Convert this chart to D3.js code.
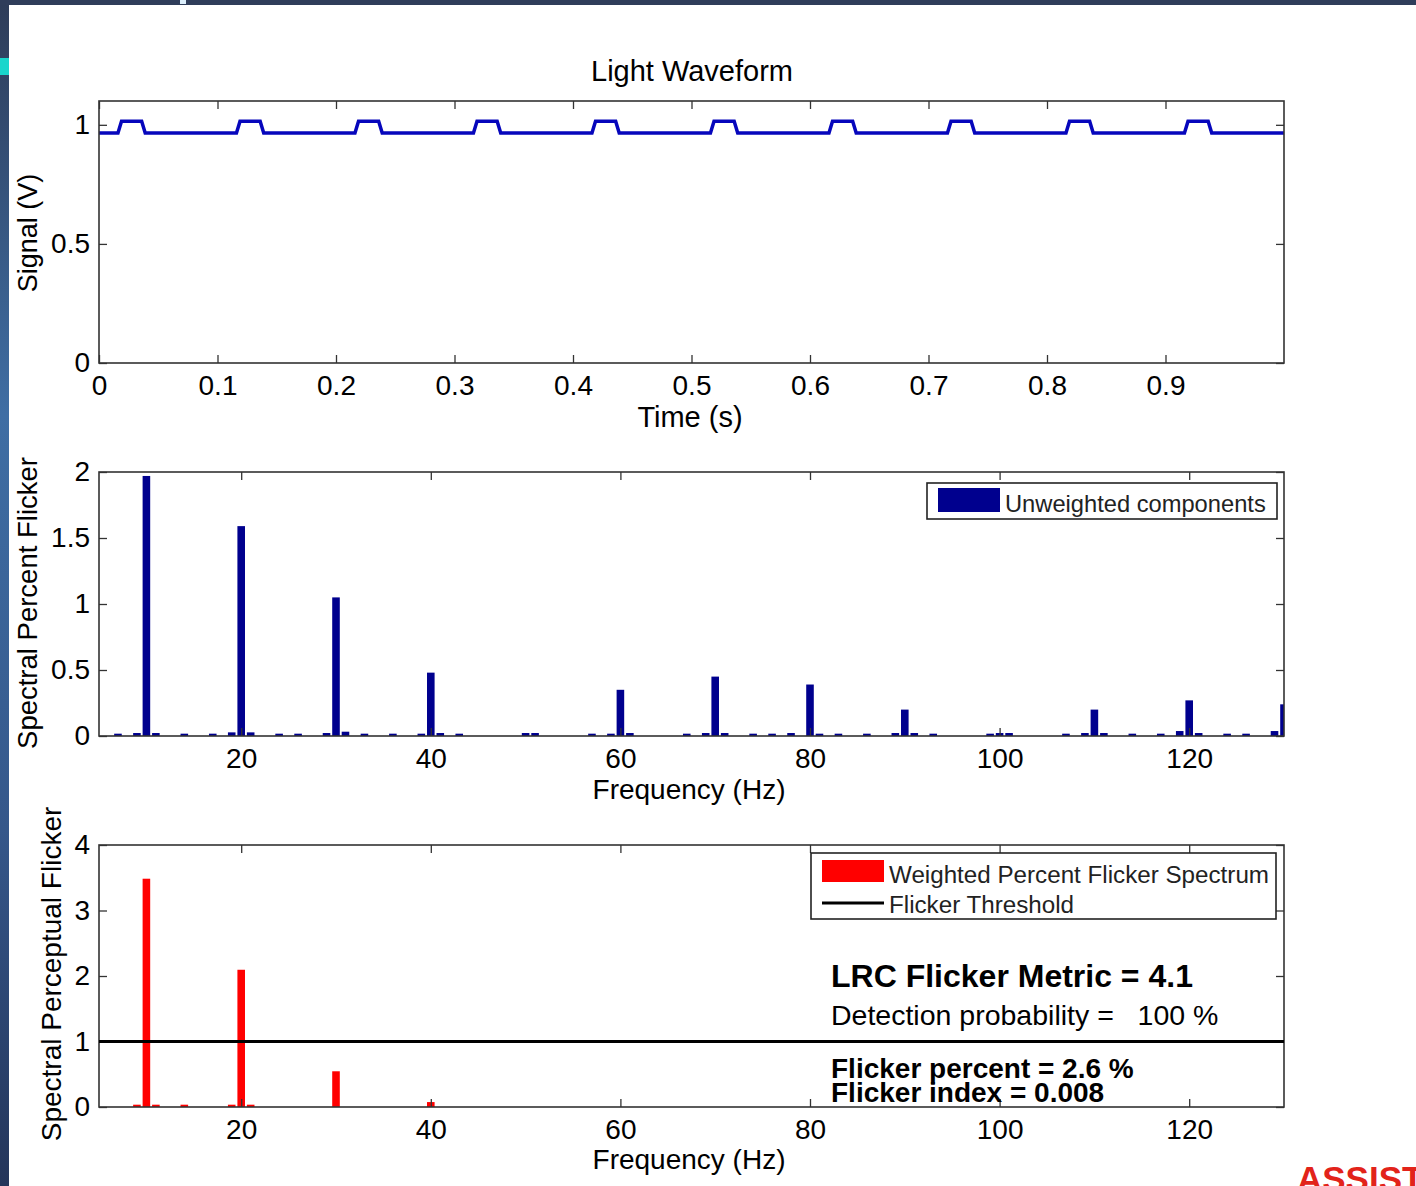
<!DOCTYPE html>
<html>
<head>
<meta charset="utf-8">
<script src="https://cdn.jsdelivr.net/npm/d3@7"></script>
<style>
  body { margin: 0; background: #fff; }
  svg { display: block; }
  text { font-family: "Liberation Sans", Arial, sans-serif; fill: #000; }
</style>
</head>
<body>
<div id="vis"></div>
<script>
// --- data ---
// light waveform: pulse rise / fall times (s) and the two signal levels (V)
const pulseRise = [0.016, 0.116, 0.216, 0.316, 0.416, 0.516, 0.616, 0.716, 0.816, 0.916];
const pulseFall = [0.036, 0.136, 0.236, 0.336, 0.436, 0.536, 0.636, 0.736, 0.836, 0.936];
const levelLow = 0.966;
const levelHigh = 1.015;
const timeTicks = [0, 0.1, 0.2, 0.3, 0.4, 0.5, 0.6, 0.7, 0.8, 0.9];
const signalTicks = [0, 0.5, 1];

// unweighted spectrum (Hz, % flicker)
const unweightedFreq = [10, 20, 30, 40, 60, 70, 80, 90, 110, 120, 130];
const unweightedVal = [1.97, 1.59, 1.05, 0.48, 0.35, 0.45, 0.39, 0.20, 0.20, 0.27, 0.24];
// small leftover components near zero
const minorFreq = [7, 9, 11, 14, 17, 19, 21, 24, 26, 29, 31, 33, 36, 39, 41, 43, 50, 51,
  57, 59, 61, 67, 69, 71, 74, 76, 78, 81, 83, 86, 89, 91, 93, 99, 100, 101, 107, 109, 111, 114, 117, 119, 121, 124, 126, 129];
const minorVal = [0.01, 0.015, 0.015, 0.01, 0.01, 0.02, 0.02, 0.01, 0.01, 0.015, 0.025, 0.01, 0.01, 0.01, 0.015, 0.01, 0.015, 0.015,
  0.01, 0.01, 0.015, 0.01, 0.015, 0.015, 0.01, 0.01, 0.015, 0.01, 0.01, 0.01, 0.015, 0.015, 0.01, 0.01, 0.015, 0.015, 0.01, 0.015, 0.015, 0.01, 0.01, 0.03, 0.015, 0.01, 0.01, 0.03];
const spectrumTicksY = [0, 0.5, 1, 1.5, 2];
const freqTicks = [20, 40, 60, 80, 100, 120];

// weighted (perceptual) spectrum
const weightedFreq = [9, 10, 11, 14, 19, 20, 21, 30, 40];
const weightedVal = [0.02, 3.47, 0.02, 0.02, 0.02, 2.08, 0.02, 0.53, 0.06];
const flickerThreshold = 1;
const perceptualTicks = [0, 1, 2, 3, 4];

const metricLines = ["LRC Flicker Metric = 4.1", "Detection probability =   100 %",
  "Flicker percent = 2.6 %", "Flicker index = 0.008"];

// --- layout ---
const width = 1416, height = 1186;
const left = 99, right = 1284;
const TICK = 8;

const svg = d3.select('#vis').append('svg')
  .attr('width', width)
  .attr('height', height);

// slide frame
const grad = svg.append('defs').append('linearGradient')
  .attr('id', 'side').attr('x1', 0).attr('y1', 0).attr('x2', 0).attr('y2', 1);
grad.append('stop').attr('offset', '0%').attr('stop-color', '#2e3c58');
grad.append('stop').attr('offset', '35%').attr('stop-color', '#3f6ea4');
grad.append('stop').attr('offset', '70%').attr('stop-color', '#35578a');
grad.append('stop').attr('offset', '100%').attr('stop-color', '#24355a');
svg.append('rect').attr('x', 0).attr('y', 0).attr('width', 9).attr('height', height).attr('fill', 'url(#side)');
svg.append('rect').attr('x', 0).attr('y', 0).attr('width', width).attr('height', 5).attr('fill', '#2f3d5a');
svg.append('rect').attr('x', 0).attr('y', 58).attr('width', 9).attr('height', 17).attr('fill', '#19d6cc');
svg.append('rect').attr('x', 180).attr('y', 0).attr('width', 6).attr('height', 4).attr('fill', '#dbeefb');
svg.append('text').attr('x', 1297).attr('y', 1191)
  .text('ASSIST')
  .style('font-size', '35px').style('font-weight', 'bold').style('fill', '#e2231a');

// generic panel with inside ticks on all four sides
function panel(top, bottom, x, y, xTicks, yTicks, xFmt, yFmt) {
  const g = svg.append('g');
  g.append('g').attr('transform', `translate(0,${bottom})`)
    .call(d3.axisBottom(x).tickValues(xTicks).tickSizeInner(-TICK).tickSizeOuter(0).tickPadding(12).tickFormat(xFmt))
    .call(a => a.select('.domain').remove());
  g.append('g').attr('transform', `translate(0,${top})`)
    .call(d3.axisTop(x).tickValues(xTicks).tickSizeInner(-TICK).tickSizeOuter(0).tickFormat(''))
    .call(a => a.select('.domain').remove());
  g.append('g').attr('transform', `translate(${left},0)`)
    .call(d3.axisLeft(y).tickValues(yTicks).tickSizeInner(-TICK).tickSizeOuter(0).tickPadding(9).tickFormat(yFmt))
    .call(a => a.select('.domain').remove());
  g.append('g').attr('transform', `translate(${right},0)`)
    .call(d3.axisRight(y).tickValues(yTicks).tickSizeInner(-TICK).tickSizeOuter(0).tickFormat(''))
    .call(a => a.select('.domain').remove());
  g.selectAll('.tick line').attr('stroke', '#333').attr('stroke-width', 1.3);
  g.selectAll('.tick text').style('font-size', '28px').attr('fill', '#000')
    .style('font-family', '"Liberation Sans", Arial, sans-serif');
  g.append('rect').attr('x', left).attr('y', top)
    .attr('width', right - left).attr('height', bottom - top)
    .attr('fill', 'none').attr('stroke', '#333').attr('stroke-width', 1.6);
  return g;
}

function clipFor(id, top, bottom) {
  svg.select('defs').append('clipPath').attr('id', id)
    .append('rect').attr('x', left).attr('y', top).attr('width', right - left).attr('height', bottom - top);
}

// ---- top: light waveform ----
const t1 = 101, b1 = 363;
const xTime = d3.scaleLinear().domain([0, 1]).range([left, right]);
const ySig = d3.scaleLinear().domain([0, 1.1]).range([b1, t1]);

const wave = [[0, levelLow]];
pulseRise.forEach((r, i) => {
  wave.push([r, levelLow], [r + 0.003, levelHigh], [pulseFall[i], levelHigh], [pulseFall[i] + 0.003, levelLow]);
});
wave.push([1, levelLow]);

svg.append('path')
  .datum(wave)
  .attr('d', d3.line().x(d => xTime(d[0])).y(d => ySig(d[1])))
  .attr('fill', 'none').attr('stroke', '#0606bc').attr('stroke-width', 3.5);

panel(t1, b1, xTime, ySig, timeTicks, signalTicks, d3.format('~g'), d3.format('~g'));

svg.append('text').attr('x', 692).attr('y', 81).attr('text-anchor', 'middle')
  .style('font-size', '29px').text('Light Waveform');
svg.append('text').attr('x', 690).attr('y', 427).attr('text-anchor', 'middle')
  .style('font-size', '29px').text('Time (s)');
svg.append('text').attr('transform', `translate(37,${233}) rotate(-90)`).attr('text-anchor', 'middle')
  .style('font-size', '27px').text('Signal (V)');

// ---- middle: unweighted spectrum ----
const t2 = 472, b2 = 736;
const xFreq = d3.scaleLinear().domain([5, 130]).range([left, right]);
const ySpec = d3.scaleLinear().domain([0, 2]).range([b2, t2]);
clipFor('clipMid', t2, b2);
const barW = 0.8;

const mid = svg.append('g').attr('clip-path', 'url(#clipMid)');
const navy = '#00008e';
mid.selectAll('rect.minor')
  .data(minorFreq.map((f, i) => ({ f, v: minorVal[i] })))
  .join('rect').attr('class', 'minor')
  .attr('x', d => xFreq(d.f - barW / 2)).attr('width', d => xFreq(d.f + barW / 2) - xFreq(d.f - barW / 2))
  .attr('y', d => ySpec(d.v) - 1).attr('height', d => ySpec(0) - ySpec(d.v) + 1)
  .attr('fill', navy);
mid.selectAll('rect.main')
  .data(unweightedFreq.map((f, i) => ({ f, v: unweightedVal[i] })))
  .join('rect').attr('class', 'main')
  .attr('x', d => xFreq(d.f - barW / 2)).attr('width', d => xFreq(d.f + barW / 2) - xFreq(d.f - barW / 2))
  .attr('y', d => ySpec(d.v)).attr('height', d => ySpec(0) - ySpec(d.v))
  .attr('fill', navy);

panel(t2, b2, xFreq, ySpec, freqTicks, spectrumTicksY, d3.format('d'), d3.format('~g'));

svg.append('text').attr('x', 689).attr('y', 799).attr('text-anchor', 'middle')
  .style('font-size', '28px').text('Frequency (Hz)');
svg.append('text').attr('transform', `translate(37,${603}) rotate(-90)`).attr('text-anchor', 'middle')
  .style('font-size', '27.5px').text('Spectral Percent Flicker');

// legend
const lg1 = svg.append('g');
lg1.append('rect').attr('x', 927).attr('y', 483).attr('width', 350).attr('height', 36)
  .attr('fill', '#fff').attr('stroke', '#222').attr('stroke-width', 1.6);
lg1.append('rect').attr('x', 938).attr('y', 488).attr('width', 62).attr('height', 24).attr('fill', navy);
lg1.append('text').attr('x', 1005).attr('y', 512).style('font-size', '23.7px').style('fill', '#222')
  .text('Unweighted components');

// ---- bottom: weighted spectrum ----
const t3 = 845, b3 = 1107;
const yPer = d3.scaleLinear().domain([0, 4]).range([b3, t3]);
clipFor('clipBot', t3, b3);

const bot = svg.append('g').attr('clip-path', 'url(#clipBot)');
bot.selectAll('rect')
  .data(weightedFreq.map((f, i) => ({ f, v: weightedVal[i] })))
  .join('rect')
  .attr('x', d => xFreq(d.f - barW / 2)).attr('width', d => xFreq(d.f + barW / 2) - xFreq(d.f - barW / 2))
  .attr('y', d => yPer(d.v) - 1).attr('height', d => yPer(0) - yPer(d.v) + 1)
  .attr('fill', '#ff0000');

panel(t3, b3, xFreq, yPer, freqTicks, perceptualTicks, d3.format('d'), d3.format('~g'));

svg.append('line')
  .attr('x1', left).attr('x2', right)
  .attr('y1', yPer(flickerThreshold)).attr('y2', yPer(flickerThreshold))
  .attr('stroke', '#000').attr('stroke-width', 3.2);

svg.append('text').attr('x', 689).attr('y', 1169).attr('text-anchor', 'middle')
  .style('font-size', '28px').text('Frequency (Hz)');
svg.append('text').attr('transform', `translate(61,${974}) rotate(-90)`).attr('text-anchor', 'middle')
  .style('font-size', '28px').text('Spectral Perceptual Flicker');

const lg2 = svg.append('g');
lg2.append('rect').attr('x', 811).attr('y', 853).attr('width', 465).attr('height', 66)
  .attr('fill', '#fff').attr('stroke', '#222').attr('stroke-width', 1.6);
lg2.append('rect').attr('x', 822).attr('y', 860).attr('width', 62).attr('height', 22).attr('fill', '#ff0000');
lg2.append('text').attr('x', 889).attr('y', 883).style('font-size', '24.2px').style('fill', '#222')
  .text('Weighted Percent Flicker Spectrum');
lg2.append('line').attr('x1', 822).attr('x2', 884).attr('y1', 903).attr('y2', 903)
  .attr('stroke', '#000').attr('stroke-width', 3.2);
lg2.append('text').attr('x', 889).attr('y', 913).style('font-size', '24.2px').style('fill', '#222')
  .text('Flicker Threshold');

// metric annotations
const notes = svg.append('g').attr('transform', 'translate(831,0)');
notes.append('text').attr('y', 987).style('font-size', '32px').style('font-weight', 'bold').text(metricLines[0]);
notes.append('text').attr('y', 1025).style('font-size', '28.5px').style('white-space', 'pre').text(metricLines[1]);
notes.append('text').attr('y', 1078).style('font-size', '28px').style('font-weight', 'bold').text(metricLines[2]);
notes.append('text').attr('y', 1102).style('font-size', '28px').style('font-weight', 'bold').text(metricLines[3]);
</script>
</body>
</html>
